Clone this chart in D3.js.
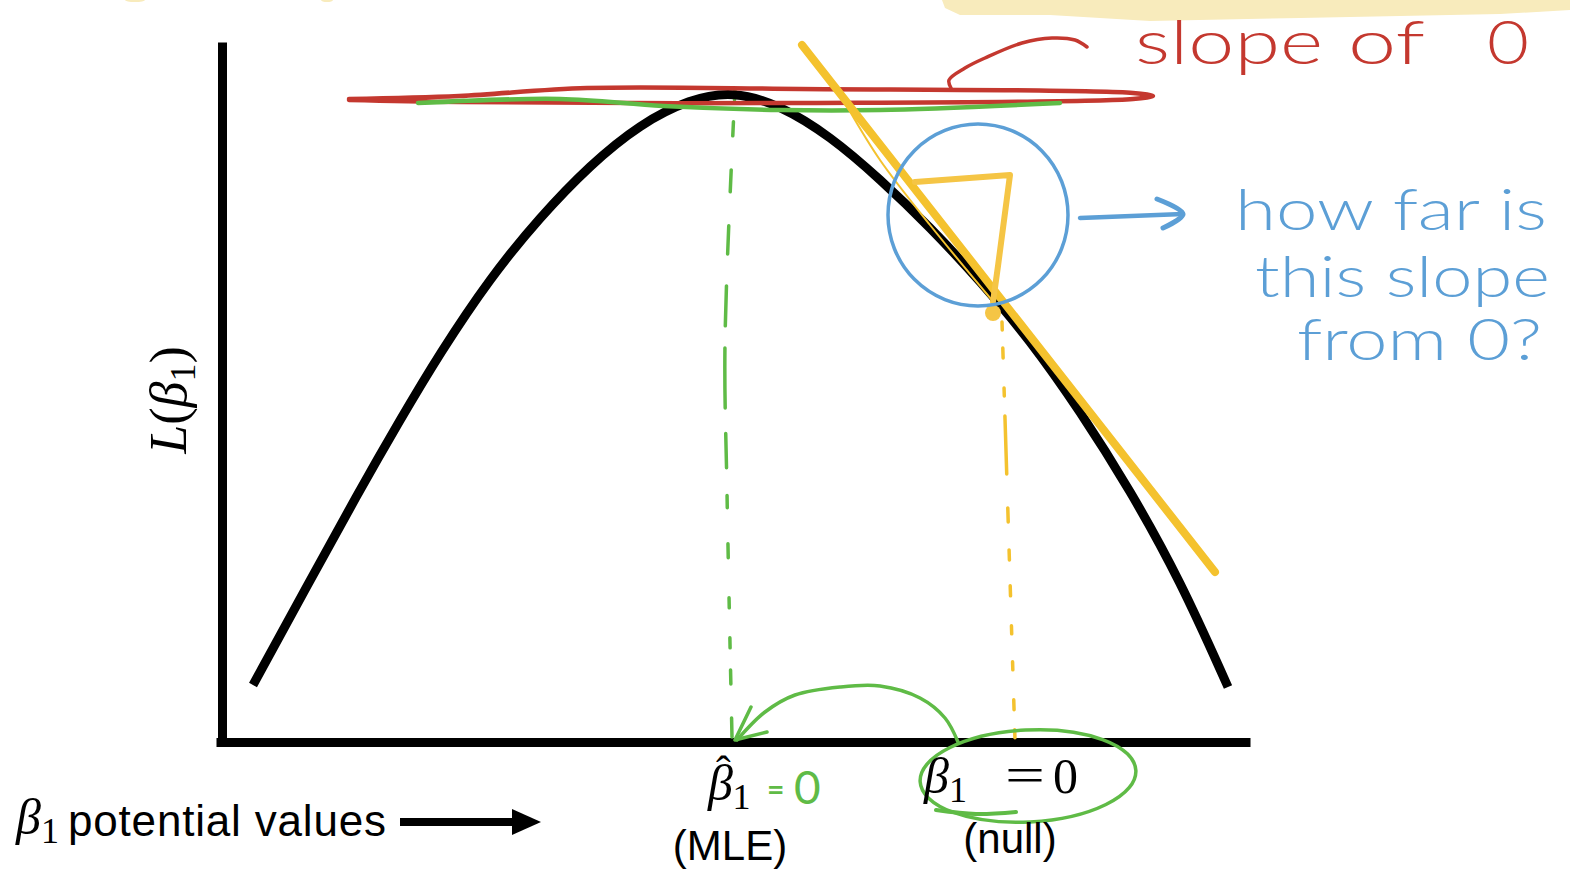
<!DOCTYPE html>
<html>
<head>
<meta charset="utf-8">
<script src="https://cdn.jsdelivr.net/npm/d3@7"></script>
<style>
  html, body { margin: 0; padding: 0; background: #fff; }
  svg { display: block; }
</style>
</head>
<body>
<script>
var width = 1570, height = 870

// likelihood curve (x: beta1 units, y: L(beta1) units)
var curveX = [31, 85, 135, 178, 218, 268, 318, 368, 418, 468, 511, 558, 608, 658, 708, 758, 808, 858, 908, 958, 1006]
var curveY = [57, 156, 247, 322, 389, 464, 525, 577, 618, 643, 651, 637, 606, 563, 515, 461, 402, 331, 252, 162, 55]

var mleX = 508, nullX = 788

// hand drawn annotations, same units
var tangent = [[580, 697], [993, 170]]
var tangentThin = [[626, 634], [658, 582], [708, 517], [774, 437]]
var triangle = [[693, 560], [788, 567], [776, 476], [771, 440]]
var nullDot = [771, 429]
var nullDash = [[780, 420], [793, 2]]
var mleDash = [[513, 652], [503, 400], [505, 250], [510, 5]]
var greenFlat = [[196, 639], [338, 643], [441, 636], [558, 632], [658, 632], [838, 639]]
var redLoop = [[127, 643], [237, 646], [365, 654], [578, 653], [911, 649], [931, 646], [911, 643], [578, 639], [237, 640], [127, 642]]
var redHook = [[729, 654], [727, 662], [743, 674], [763, 684], [800, 699], [830, 704], [853, 702], [865, 695]]
var blueCircle = {cx: 756, cy: 527, rx: 90, ry: 91}
var blueArrow = [[858, 524], [961, 528]]
var blueHead = [[935, 543], [961, 528], [941, 514]]
var greenArc = [[736, 0], [723, 24], [698, 44], [658, 56], [618, 55], [573, 47], [543, 30], [515, 2]]
var greenHead = [[529, 35], [513, 2], [545, 10]]
var greenRing = {cx: 806, cy: -34, rx: 108, ry: 46}
var greenTail = [[714, -68], [754, -72], [794, -70]]
var highlight = [[720, 742], [723, 734], [738, 727], [828, 727], [928, 721], [1078, 724], [1278, 728], [1348, 732], [1348, 742]]

var redText = ["slope", "of", "0"]
var blueText = ["how far is", "this slope", "from 0?"]

var red = "#c4382f", green = "#5fbb46", yellow = "#f4c22e", blue = "#5c9fd6"

var svg = d3.select("body").append("svg")
    .attr("width", width)
    .attr("height", height)

var x = d3.scaleLinear().domain([0, 1028]).range([222, 1250])
var y = d3.scaleLinear().domain([0, 700]).range([742, 42])

var line = d3.line()
    .x(function(d) { return x(d[0]) })
    .y(function(d) { return y(d[1]) })
    .curve(d3.curveCatmullRom)

var straight = d3.line()
    .x(function(d) { return x(d[0]) })
    .y(function(d) { return y(d[1]) })

var smooth = d3.line()
    .x(function(d) { return x(d[0]) })
    .y(function(d) { return y(d[1]) })
    .curve(d3.curveBasis)

// yellow highlighter at the top
svg.append("path")
    .attr("d", straight(highlight))
    .attr("fill", "#f8ebbc")
svg.append("ellipse").attr("cx", x(-87)).attr("cy", y(742)).attr("rx", 10).attr("ry", 2).attr("fill", "#f8ebbc")
svg.append("ellipse").attr("cx", x(105)).attr("cy", y(742)).attr("rx", 6).attr("ry", 2).attr("fill", "#f8ebbc")

// axes
svg.append("g")
    .attr("transform", "translate(" + x(0) + ",0)")
    .call(d3.axisLeft(y).tickValues([]).tickSizeOuter(0))
    .select(".domain").attr("stroke", "#000").attr("stroke-width", 9)
svg.append("g")
    .attr("transform", "translate(0," + y(0) + ")")
    .call(d3.axisBottom(x.copy().domain([-6, 1028]).range([x(-6), x(1028)])).tickValues([]).tickSizeOuter(0))
    .select(".domain").attr("stroke", "#000").attr("stroke-width", 9)

// dashed drop lines
svg.append("path")
    .attr("d", line(mleDash))
    .attr("fill", "none").attr("stroke", green).attr("stroke-width", 3.5)
    .attr("stroke-linecap", "round")
    .attr("stroke-dasharray", "10,22,14,34,22,34,28,32,40,22,60,26,34,28,12,36,14,40,10,30")
svg.append("path")
    .attr("d", straight(nullDash))
    .attr("fill", "none").attr("stroke", yellow).attr("stroke-width", 3.5)
    .attr("stroke-linecap", "round")
    .attr("stroke-dasharray", "8,18,10,30,8,20,58,34,14,28,10,26,10,30,8,28,8,30,10,20")

// likelihood curve
svg.append("path")
    .datum(d3.zip(curveX, curveY))
    .attr("d", smooth)
    .attr("fill", "none")
    .attr("stroke", "#000")
    .attr("stroke-width", 9)

// red loop and hook
svg.append("path")
    .attr("d", line(redLoop))
    .attr("fill", "none").attr("stroke", red).attr("stroke-width", 4.5)
    .attr("stroke-linecap", "round")
svg.append("path")
    .attr("d", line(redHook))
    .attr("fill", "none").attr("stroke", red).attr("stroke-width", 3.5)
    .attr("stroke-linecap", "round")

// green flat tangent at MLE
svg.append("path")
    .attr("d", line(greenFlat))
    .attr("fill", "none").attr("stroke", green).attr("stroke-width", 4.5)
    .attr("stroke-linecap", "round")

// yellow tangent at the null
svg.append("path")
    .attr("d", line(tangentThin))
    .attr("fill", "none").attr("stroke", yellow).attr("stroke-width", 2)
svg.append("path")
    .attr("d", straight(tangent))
    .attr("fill", "none").attr("stroke", yellow).attr("stroke-width", 8)
    .attr("stroke-linecap", "round")
svg.append("path")
    .attr("d", straight(triangle))
    .attr("fill", "none").attr("stroke", "#f5c545").attr("stroke-width", 6)
    .attr("stroke-linecap", "round").attr("stroke-linejoin", "round")
svg.append("circle")
    .attr("cx", x(nullDot[0])).attr("cy", y(nullDot[1])).attr("r", 8)
    .attr("fill", "#f5c545")

// blue circle + arrow
svg.append("ellipse")
    .attr("cx", x(blueCircle.cx)).attr("cy", y(blueCircle.cy))
    .attr("rx", x(blueCircle.rx) - x(0)).attr("ry", y(0) - y(blueCircle.ry))
    .attr("fill", "none").attr("stroke", blue).attr("stroke-width", 3.5)
svg.append("path")
    .attr("d", straight(blueArrow))
    .attr("fill", "none").attr("stroke", blue).attr("stroke-width", 4.5)
    .attr("stroke-linecap", "round")
svg.append("path")
    .attr("d", line(blueHead))
    .attr("fill", "none").attr("stroke", blue).attr("stroke-width", 5)
    .attr("stroke-linecap", "round").attr("stroke-linejoin", "round")

// green arrow from null back to MLE
svg.append("path")
    .attr("d", line(greenArc))
    .attr("fill", "none").attr("stroke", green).attr("stroke-width", 3.5)
    .attr("stroke-linecap", "round")
svg.append("path")
    .attr("d", straight(greenHead))
    .attr("fill", "none").attr("stroke", green).attr("stroke-width", 3.5)
    .attr("stroke-linecap", "round").attr("stroke-linejoin", "round")
svg.append("ellipse")
    .attr("cx", x(greenRing.cx)).attr("cy", y(greenRing.cy))
    .attr("rx", greenRing.rx).attr("ry", greenRing.ry)
    .attr("transform", "rotate(-3," + x(greenRing.cx) + "," + y(greenRing.cy) + ")")
    .attr("fill", "none").attr("stroke", green).attr("stroke-width", 3.5)
svg.append("path")
    .attr("d", line(greenTail))
    .attr("fill", "none").attr("stroke", green).attr("stroke-width", 4)
    .attr("stroke-linecap", "round")

// y label
var yl = svg.append("text")
    .attr("transform", "translate(186,400) rotate(-90)")
    .attr("text-anchor", "middle")
    .attr("font-family", "Liberation Serif, DejaVu Serif, serif")
    .attr("font-size", 52)
yl.append("tspan").attr("font-style", "italic").text("L")
yl.append("tspan").text("(")
yl.append("tspan").attr("font-style", "italic").text("β")
yl.append("tspan").attr("font-size", 36).attr("dy", 9).text("1")
yl.append("tspan").attr("dy", -9).text(")")

// x label
var xl = svg.append("text")
    .attr("x", 16).attr("y", 834)
    .attr("font-family", "Liberation Serif, serif")
    .attr("font-size", 50)
xl.append("tspan").attr("font-style", "italic").text("β")
xl.append("tspan").attr("font-size", 36).attr("dy", 9).text("1")
svg.append("text")
    .attr("x", 68).attr("y", 836)
    .attr("font-family", "Liberation Sans, Arial, sans-serif")
    .attr("font-size", 44)
    .attr("textLength", 318)
    .text("potential values")
svg.append("rect").attr("x", 400).attr("y", 818).attr("width", 116).attr("height", 8).attr("fill", "#000")
svg.append("path").attr("d", "M512,809L541,822L512,835Z").attr("fill", "#000")

// MLE label: beta hat sub 1
var ml = svg.append("text")
    .attr("x", x(mleX) - 22).attr("y", 800)
    .attr("font-family", "Liberation Serif, serif")
    .attr("font-size", 50)
ml.append("tspan").attr("font-style", "italic").text("β")
ml.append("tspan").attr("font-size", 44).attr("dx", -17).attr("dy", -14).text("ˆ")
ml.append("tspan").attr("font-size", 36).attr("dx", 2).attr("dy", 23).text("1")
svg.append("text")
    .attr("x", x(mleX) + 37).attr("y", 800)
    .attr("font-family", "Lato, sans-serif").attr("font-weight", 700)
    .attr("font-size", 30).attr("fill", green)
    .text("=")
svg.append("text")
    .attr("x", x(mleX) + 64).attr("y", 804)
    .attr("font-family", "Lato, sans-serif")
    .attr("font-size", 46).attr("fill", green)
    .text("0")
svg.append("text")
    .attr("x", x(mleX)).attr("y", 860)
    .attr("text-anchor", "middle")
    .attr("font-family", "Liberation Sans, Arial, sans-serif")
    .attr("font-size", 42)
    .text("(MLE)")

// null label
var nl = svg.append("text")
    .attr("x", x(nullX) - 86).attr("y", 793)
    .attr("font-family", "Liberation Serif, serif")
    .attr("font-size", 50)
nl.append("tspan").attr("font-style", "italic").text("β")
nl.append("tspan").attr("font-size", 36).attr("dy", 9).text("1")
svg.append("text")
    .attr("x", x(nullX) - 5).attr("y", 792)
    .attr("font-family", "Liberation Serif, serif")
    .attr("font-size", 50)
    .attr("textLength", 40).attr("lengthAdjust", "spacingAndGlyphs")
    .text("=")
svg.append("text")
    .attr("x", x(nullX) + 43).attr("y", 793)
    .attr("font-family", "Liberation Serif, serif")
    .attr("font-size", 50)
    .text("0")
svg.append("text")
    .attr("x", x(nullX)).attr("y", 853)
    .attr("text-anchor", "middle")
    .attr("font-family", "Liberation Sans, Arial, sans-serif")
    .attr("font-size", 42)
    .text("(null)")

// handwritten notes
var redPos = [[1135, 188], [1348, 77], [1487, 42]]
svg.selectAll(".red-note")
    .data(redText)
  .enter().append("text")
    .attr("class", "red-note")
    .attr("x", function(d, i) { return redPos[i][0] })
    .attr("y", 64)
    .attr("textLength", function(d, i) { return redPos[i][1] })
    .attr("lengthAdjust", "spacingAndGlyphs")
    .attr("font-family", "Lato, sans-serif").attr("font-weight", 300)
    .attr("font-size", 62)
    .attr("fill", red)
    .text(function(d) { return d })

var bluePos = [[1235, 230, 312], [1255, 297, 295], [1297, 360, 245]]
svg.selectAll(".blue-note")
    .data(blueText)
  .enter().append("text")
    .attr("class", "blue-note")
    .attr("x", function(d, i) { return bluePos[i][0] })
    .attr("y", function(d, i) { return bluePos[i][1] })
    .attr("textLength", function(d, i) { return bluePos[i][2] })
    .attr("lengthAdjust", "spacingAndGlyphs")
    .attr("font-family", "Lato, sans-serif").attr("font-weight", 300)
    .attr("font-size", 58)
    .attr("fill", blue)
    .text(function(d) { return d })
</script>
</body>
</html>
